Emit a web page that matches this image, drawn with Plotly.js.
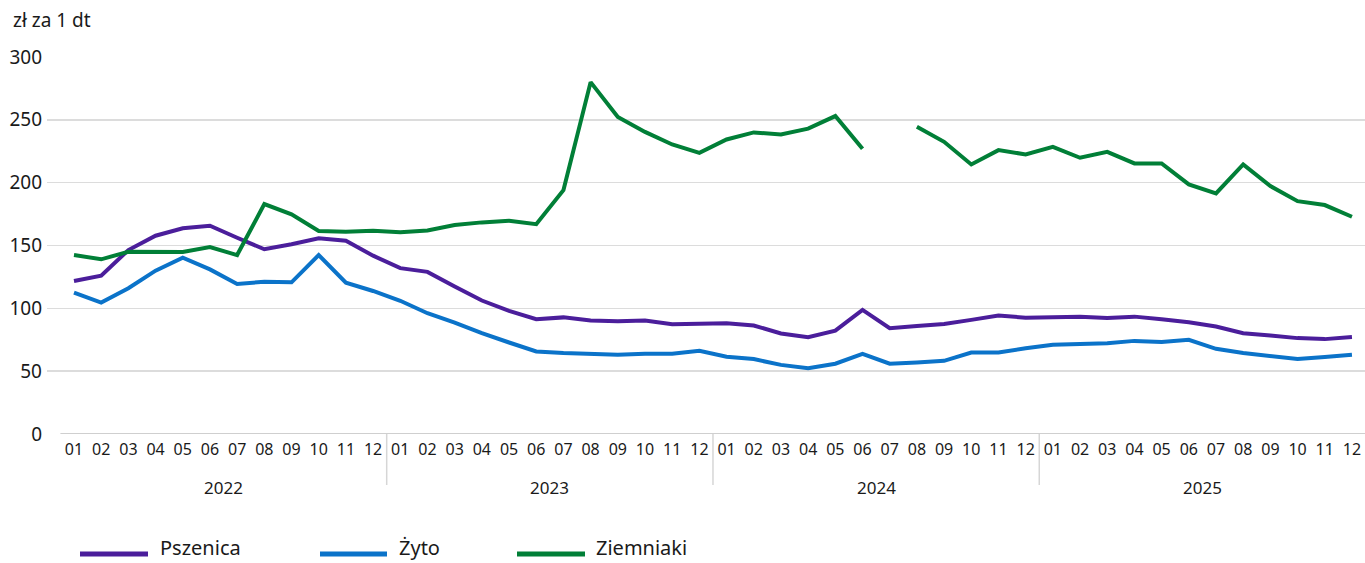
<!DOCTYPE html>
<html>
<head>
<meta charset="utf-8">
<script src="https://cdn.plot.ly/plotly-3.0.1.min.js"></script>
<style>
  html, body { margin: 0; padding: 0; background: #ffffff; }
  #chart { width: 1365px; height: 563px; }
</style>
</head>
<body>
<div id="chart"></div>
<script>
const years = ['2022', '2023', '2024', '2025'];
const months = ['01','02','03','04','05','06','07','08','09','10','11','12'];
const seriesNames = ['Pszenica', 'Żyto', 'Ziemniaki'];
const unitLabel = 'zł za 1 dt';

const pszenica = [
  121.8, 126.0, 146.4, 157.8, 163.7, 165.7, 156.2, 147.0, 151.0, 155.7, 153.8, 141.9,
  132.0, 129.0, 117.3, 106.2, 98.0, 91.4, 92.8, 90.3, 89.8, 90.3, 87.4, 88.0,
  88.2, 86.3, 80.0, 77.0, 82.3, 98.8, 84.2, 86.0, 87.6, 90.8, 94.2, 92.6,
  93.4, 93.4, 92.4, 93.4, 91.4, 89.0, 85.5, 80.2, 78.4, 76.3, 75.5, 77.1
];
const zyto = [
  112.5, 104.6, 116.0, 130.0, 140.3, 131.0, 119.4, 121.2, 120.7, 142.4, 120.4, 113.8,
  106.0, 96.1, 88.7, 80.2, 72.8, 65.7, 64.4, 63.5, 63.0, 63.8, 63.8, 66.2,
  61.5, 59.6, 55.0, 52.4, 55.9, 63.8, 55.9, 56.9, 58.2, 64.8, 64.8, 68.3,
  71.0, 71.7, 72.3, 74.1, 73.3, 74.9, 67.8, 64.4, 62.2, 59.6, 61.2, 63.0
];
const ziemniaki = [
  142.4, 139.0, 145.0, 144.8, 144.8, 148.8, 142.4, 183.0, 174.8, 161.5, 161.0, 161.8,
  160.5, 162.0, 166.3, 168.4, 169.7, 167.0, 194.0, 280.0, 252.3, 240.4, 230.4, 223.7,
  234.4, 240.0, 238.3, 243.0, 253.0, 227.0, null, 244.4, 232.5, 214.5, 225.9, 222.5,
  228.5, 219.8, 224.5, 215.3, 215.3, 198.6, 191.5, 214.5, 197.3, 185.3, 182.2, 172.9
];
const yTicks = [0, 50, 100, 150, 200, 250, 300];

const colors = ['#4b1e9b', '#0b73c9', '#017f37'];
const FONT = 'Noto Sans, DejaVu Sans, sans-serif';

const xCats = [];
const xText = [];
years.forEach(y => months.forEach(m => { xCats.push(y + '-' + m); xText.push(m); }));

const allSeries = [pszenica, zyto, ziemniaki];
const traces = allSeries.map((vals, i) => ({
  type: 'scatter',
  mode: 'lines',
  name: seriesNames[i],
  x: xCats,
  y: vals,
  line: { color: colors[i], width: 4 },
  connectgaps: false,
  showlegend: false,
  hoverinfo: 'x+y+name'
}));

// plot-area geometry helpers (paper coords)
const L = 47, R = 0, T = 57, B = 129, W = 1365, H = 563;
const pw = W - L - R, ph = H - T - B;
const px = v => (v - L) / pw;
const py = v => (H - B - v) / ph;

const shapes = [];
const annotations = [];

// x axis baseline
shapes.push({ type: 'line', xref: 'x', yref: 'y', x0: -0.5, x1: 47.5, y0: 0, y1: 0,
  line: { color: '#cfcfcf', width: 2 }, layer: 'above' });

// year separators and year labels
years.forEach((y, k) => {
  if (k > 0) {
    shapes.push({ type: 'line', xref: 'x', yref: 'paper', x0: k * 12 - 0.5, x1: k * 12 - 0.5,
      y0: 0, y1: py(485), line: { color: '#d6d6d6', width: 1.5 } });
  }
  annotations.push({ xref: 'x', yref: 'paper', x: k * 12 + 5.5, y: py(487), text: y,
    showarrow: false, xanchor: 'center', yanchor: 'middle',
    font: { family: FONT, size: 17, color: '#1a1a1a' } });
});

// unit label
annotations.push({ xref: 'paper', yref: 'paper', x: px(11), y: py(20), text: unitLabel,
  showarrow: false, xanchor: 'left', yanchor: 'middle',
  font: { family: FONT, size: 19, color: '#1a1a1a' } });

// custom legend
const legendPos = [[80, 148, 158], [320, 387, 397], [517, 585, 594]];
seriesNames.forEach((n, i) => {
  const p = legendPos[i];
  shapes.push({ type: 'line', xref: 'paper', yref: 'paper', x0: px(p[0]), x1: px(p[1]),
    y0: py(554), y1: py(554), line: { color: colors[i], width: 5 } });
  annotations.push({ xref: 'paper', yref: 'paper', x: px(p[2]), y: py(563), text: n,
    showarrow: false, xanchor: 'left', yanchor: 'bottom',
    font: { family: FONT, size: 20, color: '#1a1a1a' } });
});

const layout = {
  width: W, height: H,
  margin: { l: L, r: R, t: T, b: B, pad: 0 },
  paper_bgcolor: '#ffffff',
  plot_bgcolor: '#ffffff',
  showlegend: false,
  font: { family: FONT, color: '#1a1a1a' },
  xaxis: {
    type: 'category',
    range: [-0.993, 47.48],
    tickmode: 'array',
    tickvals: xCats,
    ticktext: xText,
    tickfont: { family: FONT, size: 16, color: '#1a1a1a' },
    showgrid: false,
    zeroline: false,
    showline: false,
    ticks: '',
    ticklabelstandoff: 4,
    fixedrange: true
  },
  yaxis: {
    range: [0, 300],
    tickmode: 'array',
    tickvals: yTicks,
    ticktext: yTicks.map(String),
    tickfont: { family: FONT, size: 19, color: '#1a1a1a' },
    showgrid: true,
    gridcolor: '#dcdcdc',
    gridwidth: 1.5,
    zeroline: false,
    showline: false,
    ticks: '',
    ticklabelstandoff: 4,
    fixedrange: true
  },
  shapes: shapes,
  annotations: annotations
};

Plotly.newPlot('chart', traces, layout, { displayModeBar: false, staticPlot: true });
</script>
</body>
</html>
